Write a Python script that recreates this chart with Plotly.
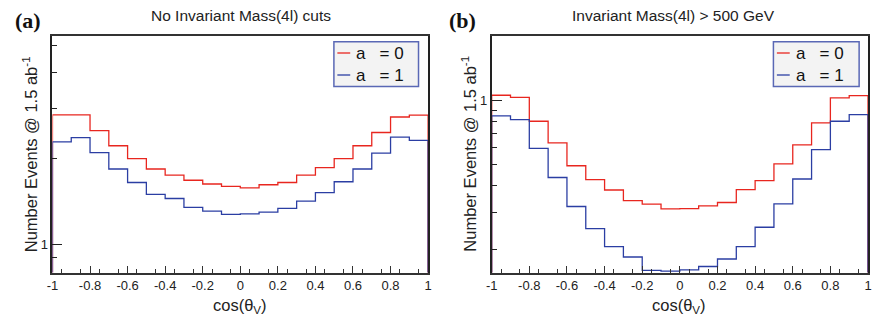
import numpy as np
import plotly.graph_objects as go

# ---- data ----
bin_edges = [round(-1 + 0.1 * i, 1) for i in range(21)]

a_red = [2.85, 2.85, 2.51, 2.22, 2.00, 1.84, 1.75, 1.68, 1.63, 1.60,
         1.58, 1.62, 1.65, 1.75, 1.86, 2.00, 2.22, 2.47, 2.80, 2.84]
a_blue = [2.29, 2.37, 2.10, 1.84, 1.65, 1.50, 1.45, 1.35, 1.31, 1.275,
          1.28, 1.30, 1.34, 1.42, 1.52, 1.66, 1.84, 2.09, 2.38, 2.32]

b_red = [1.059, 1.036, 0.800, 0.633, 0.495, 0.426, 0.381, 0.340, 0.327, 0.311,
         0.312, 0.321, 0.333, 0.383, 0.422, 0.505, 0.620, 0.786, 1.030, 1.055]
b_blue = [0.848, 0.814, 0.597, 0.436, 0.319, 0.251, 0.207, 0.185, 0.160, 0.1587,
          0.161, 0.167, 0.181, 0.207, 0.255, 0.328, 0.429, 0.589, 0.800, 0.860]

series_names = ["a\u00a0\u00a0\u00a0= 0", "a\u00a0\u00a0\u00a0= 1"]
panel_titles = ["No Invariant Mass(4l) cuts", "Invariant Mass(4l) > 500 GeV"]
panel_labels = ["(a)", "(b)"]
y_title = "Number Events @ 1.5 ab<sup>-1</sup>"
x_title = "cos(\u03b8<sub>V</sub>)"
x_label_vals = [round(-1 + 0.2 * i, 1) for i in range(11)]
x_label_text = ["%g" % v for v in x_label_vals]
x_mid_vals = [round(-0.9 + 0.2 * i, 1) for i in range(10)]
x_minor_vals = [round(-0.95 + 0.1 * k, 2) for k in range(20)]

yrange_a = (0.798, 5.37)
yrange_b = (0.1565, 2.0)
minor_a = [0.9, 2, 3, 4, 5]
minor_b = [0.2, 0.3, 0.4, 0.5, 0.6, 0.7, 0.8, 0.9]

RED = "#e8261f"
BLUE = "#2b3ea3"

W, H = 874, 321


def px(x):
    return x / W


def py(y):
    return 1 - y / H


def step(vals, floor):
    xs = [bin_edges[0]] + bin_edges[:-1] + [bin_edges[-1], bin_edges[-1]]
    ys = [floor] + list(vals) + [vals[-1], floor]
    return xs, ys


fig = go.Figure()

panels = [
    dict(red=a_red, blue=a_blue, yr=yrange_a, minor=minor_a, xa="x", ya="y",
         xdom=(47, 427)),
    dict(red=b_red, blue=b_blue, yr=yrange_b, minor=minor_b, xa="x2", ya="y2",
         xdom=(491.3, 872)),
]

for p in panels:
    floor = p["yr"][0] * 0.5
    for vals, col, nm in [(p["red"], RED, series_names[0]), (p["blue"], BLUE, series_names[1])]:
        xs, ys = step(vals, floor)
        fig.add_trace(go.Scatter(x=xs, y=ys, mode="lines", line=dict(color=col, width=1.3, shape="hv"),
                                 name=nm, showlegend=False, xaxis=p["xa"], yaxis=p["ya"],
                                 hoverinfo="skip"))

ydom = [py(272.5), py(36.3)]
font_family = "Liberation Sans, Arial, sans-serif"

for i, p in enumerate(panels):
    sx = "" if i == 0 else "2"
    ox = "3" if i == 0 else "4"
    dom = [px(p["xdom"][0]), px(p["xdom"][1])]
    fig.update_layout(**{
        "xaxis" + sx: dict(domain=dom, range=[-1, 1],
                           anchor="y" + sx, tickmode="array", tickvals=x_label_vals, ticktext=x_label_text,
                           ticks="inside", ticklen=7, tickcolor="#333", tickwidth=1,
                           minor=dict(tickmode="array", tickvals=x_minor_vals,
                                      ticks="inside", ticklen=4, tickcolor="#333"),
                           showgrid=False, zeroline=False, showline=True, mirror=True,
                           linecolor="#333", linewidth=1.5,
                           tickfont=dict(family=font_family, size=13, color="#222"),
                           fixedrange=True),
        # extra tall ticks at the odd tenths (no labels)
        "xaxis" + ox: dict(domain=dom, range=[-1, 1], overlaying="x" + sx, anchor="y" + sx,
                           side="bottom", tickmode="array", tickvals=x_mid_vals,
                           showticklabels=False, ticks="inside", ticklen=7, tickcolor="#333",
                           tickwidth=1, showgrid=False, zeroline=False, showline=False,
                           fixedrange=True),
        "yaxis" + sx: dict(domain=ydom, type="log", anchor="x" + sx,
                           range=[np.log10(p["yr"][0]), np.log10(p["yr"][1])],
                           tickmode="array", tickvals=[1], ticktext=["1"],
                           ticks="inside", ticklen=10, tickcolor="#222", tickwidth=1,
                           minor=dict(tickmode="array", tickvals=p["minor"], ticks="inside",
                                      ticklen=5, tickcolor="#222"),
                           showgrid=False, zeroline=False, showline=True, mirror=True,
                           linecolor="#222", linewidth=1.8,
                           tickfont=dict(family=font_family, size=13, color="#222"),
                           fixedrange=True),
    })

ann = []
shapes = []
label_x = [22, 462]
title_x = [238, 675]
ytitle_x = [24.5, 468]
xtitle_x = [237, 681]
legend_box = [(331.7, 417.3), (776.3, 863)]


def note(x, y, text, size, family=font_family, xanchor="center", angle=0, color="#222"):
    return dict(x=px(x), y=py(y), xref="paper", yref="paper", showarrow=False,
                xanchor=xanchor, yanchor="middle", text=text, textangle=angle,
                font=dict(family=family, size=size, color=color))


for i in range(2):
    ann.append(note(label_x[i], 20, "<b>%s</b>" % panel_labels[i], 22,
                    family="Liberation Serif, Times New Roman, serif", color="#111"))
    ann.append(note(title_x[i], 15, panel_titles[i], 15.5))
    ann.append(note(ytitle_x[i], 154, y_title, 16.5, angle=-90))
    ann.append(note(xtitle_x[i], 306, x_title, 16.5))
    bx0, bx1 = legend_box[i]
    shapes.append(dict(type="rect", xref="paper", yref="paper", x0=px(bx0), x1=px(bx1),
                       y0=py(86.5), y1=py(41.7), fillcolor="#f3f3f3",
                       line=dict(color="#5a68b5", width=1.5), layer="above"))
    for j, (col, nm, yy) in enumerate([(RED, series_names[0], 53), (BLUE, series_names[1], 75)]):
        shapes.append(dict(type="line", xref="paper", yref="paper", x0=px(bx0 + 3.5), x1=px(bx0 + 16.5),
                           y0=py(yy), y1=py(yy), line=dict(color=col, width=1.3), layer="above"))
        ann.append(note(bx0 + 20.5, yy, nm, 17, xanchor="left", color="#111"))

fig.update_layout(width=W, height=H, margin=dict(l=0, r=0, t=0, b=0),
                  paper_bgcolor="white", plot_bgcolor="white",
                  annotations=ann, shapes=shapes, showlegend=False)

fig.write_html("out.html")
